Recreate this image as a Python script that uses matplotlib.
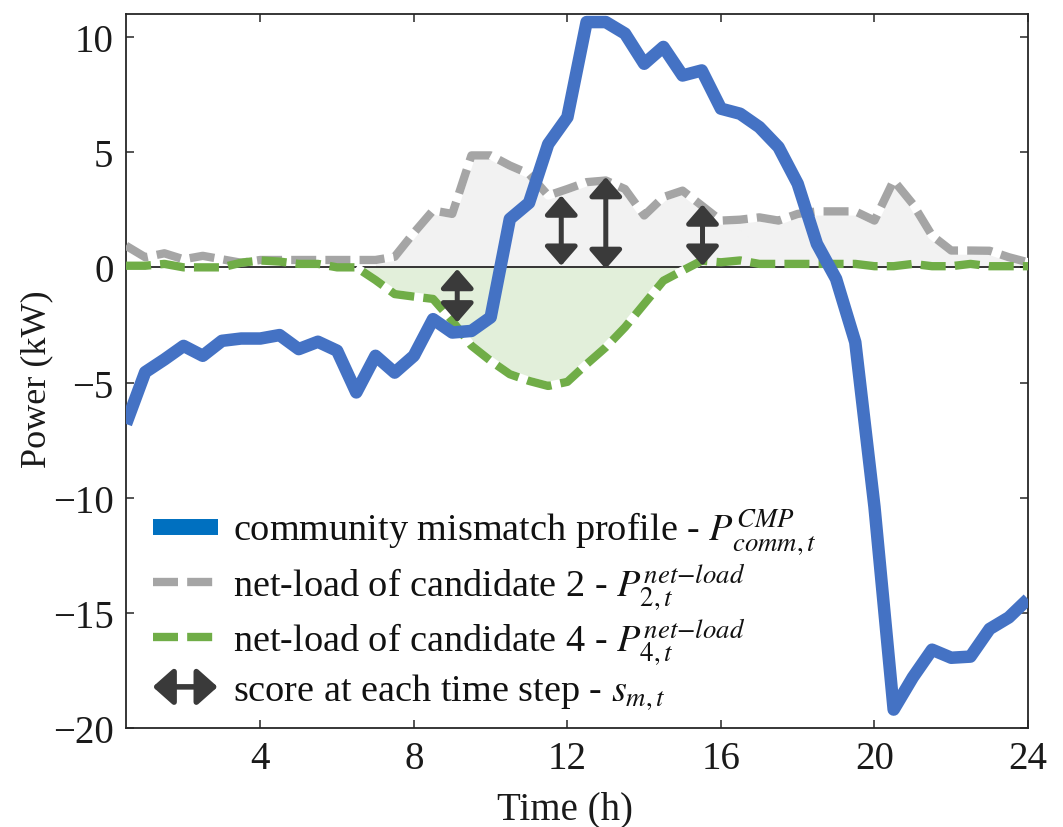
import numpy as np
import matplotlib
matplotlib.use("Agg")
import matplotlib.pyplot as plt
import matplotlib.patches as mpatches
from matplotlib.lines import Line2D
from matplotlib.legend_handler import HandlerBase

plt.rcParams['font.family'] = ['Liberation Serif', 'DejaVu Serif']
plt.rcParams['mathtext.fontset'] = 'stix'

# ---------------- data ----------------
time_h = np.arange(0.5, 24.01, 0.5)

community_mismatch = [-6.8, -4.55, -4.0, -3.41, -3.84, -3.19, -3.09, -3.09, -2.94, -3.55,
                      -3.23, -3.62, -5.43, -3.84, -4.57, -3.84, -2.25, -2.83, -2.76, -2.17,
                      2.1, 2.8, 5.35, 6.52, 10.65, 10.65, 10.15, 8.84, 9.57, 8.33,
                      8.55, 6.89, 6.67, 6.09, 5.22, 3.63, 1.02, -0.5, -3.25, -10.4,
                      -19.2, -17.8, -16.6, -16.95, -16.9, -15.7, -15.2, -14.4]

netload_cand2 = [0.94, 0.44, 0.61, 0.35, 0.5, 0.35, 0.2, 0.32, 0.32, 0.32,
                 0.32, 0.32, 0.32, 0.32, 0.46, 1.5, 2.47, 2.32, 4.86, 4.86,
                 4.42, 4.06, 3.12, 3.4, 3.7, 3.77, 3.4, 2.25, 3.05, 3.33,
                 2.68, 2.03, 2.07, 2.17, 2.03, 2.32, 2.43, 2.43, 2.43, 2.03,
                 3.77, 2.75, 1.38, 0.73, 0.73, 0.72, 0.44, 0.22]

netload_cand4 = [0.07, 0.07, 0.15, 0.0, 0.0, 0.0, 0.2, 0.3, 0.25, 0.15,
                 0.15, 0.0, 0.0, -0.55, -1.16, -1.27, -1.37, -2.32, -3.4, -4.06,
                 -4.64, -4.93, -5.15, -4.97, -4.2, -3.47, -2.6, -1.59, -0.58, -0.14,
                 0.29, 0.22, 0.3, 0.15, 0.15, 0.15, 0.15, 0.15, 0.15, 0.05,
                 0.05, 0.15, 0.05, 0.05, 0.15, 0.05, 0.05, 0.05]

# score arrows (time, lower end, upper end)
score_time = [9.13, 11.84, 13.0, 15.52]
score_low = [-2.39, 0.07, -0.07, 0.07]
score_high = [-0.07, 3.12, 3.92, 2.73]

x_ticks = [4, 8, 12, 16, 20, 24]
y_ticks = [-20, -15, -10, -5, 0, 5, 10]

legend_labels = [
    r'community mismatch profile - $P^{CMP}_{comm,t}$',
    r'net-load of candidate 2 - $P^{net\mathrm{-}load}_{2,t}$',
    r'net-load of candidate 4 - $P^{net\mathrm{-}load}_{4,t}$',
    r'score at each time step - $s_{m,t}$',
]

# ---------------- style ----------------
C_BLUE = '#4472C4'
C_BLUE_LEG = '#0070C0'
C_GRAY = '#A5A5A5'
C_GREEN = '#70AD47'
C_GRAY_FILL = '#F2F2F2'
C_GREEN_FILL = '#E2EFDA'
C_ARROW = '#3A3A3A'
C_SPINE = '#262626'

t = np.asarray(time_h)
blue = np.asarray(community_mismatch)
gray = np.asarray(netload_cand2)
green = np.asarray(netload_cand4)

fig = plt.figure(figsize=(10.63, 8.28), dpi=100)
ax = fig.add_axes([126 / 1063, 1 - 729 / 828, (1028 - 126) / 1063, (729 - 15) / 828])

# fills
ax.fill_between(t, 0, gray, where=t >= 7.0, color=C_GRAY_FILL, lw=0, zorder=1)
ax.fill_between(t, 0, green, where=green < 0, interpolate=True, color=C_GREEN_FILL, lw=0, zorder=1)

# zero line
ax.axhline(0, color='black', lw=1.1, zorder=2)

dash_lw = 6
gray_under = np.where(t >= 7.0, gray, np.nan)
ax.plot(t, gray_under, color='white', lw=dash_lw, solid_capstyle='butt', zorder=3)
ax.plot(t, gray, color=C_GRAY, lw=dash_lw, dashes=(3, 1.1), dash_capstyle='butt', zorder=3)

green_under = np.where((t >= 6.5) & (t <= 15.5), green, np.nan)
ax.plot(t, green_under, color='white', lw=dash_lw, solid_capstyle='butt', zorder=4)
ax.plot(t, green, color=C_GREEN, lw=dash_lw, dashes=(3, 1.1), dash_capstyle='butt', zorder=4)

# community mismatch
ax.plot(t, blue, color=C_BLUE, lw=9, solid_joinstyle='round', solid_capstyle='butt', zorder=5)

# score arrows
for ts, lo, hi in zip(score_time, score_low, score_high):
    ax.annotate('', xy=(ts, hi), xytext=(ts, lo),
                arrowprops=dict(arrowstyle='<|-|>,head_length=1.15,head_width=1.0',
                                mutation_scale=10, lw=3.6, color=C_ARROW,
                                shrinkA=0, shrinkB=0),
                zorder=6)

ax.set_xlim(0.5, 24)
ax.set_ylim(-20, 11)
ax.set_xticks(x_ticks)
ax.set_yticks(y_ticks)
ax.set_yticklabels([('\u2212' + str(-v)) if v < 0 else str(v) for v in y_ticks])
ax.tick_params(direction='in', length=6, width=1.1, top=True, right=True,
               labelsize=28, pad=9, color=C_SPINE, labelcolor='#1a1a1a')
for s in ax.spines.values():
    s.set_linewidth(1.3)
    s.set_color(C_SPINE)

ax.set_xlabel('Time (h)', fontsize=28, color='#1a1a1a', labelpad=9)
ax.set_ylabel('Power (kW)', fontsize=26, color='#1a1a1a')
ax.yaxis.set_label_coords(-0.081, 0.49)
ax.xaxis.label.set_x(0.487)


# legend
class ArrowHandler(HandlerBase):
    def create_artists(self, legend, orig_handle, xdescent, ydescent, width, height, fontsize, trans):
        y = height / 2 - ydescent
        a = mpatches.FancyArrowPatch((-xdescent, y), (-xdescent + width, y),
                                     arrowstyle='<|-|>,head_length=0.45,head_width=0.4',
                                     mutation_scale=fontsize, lw=4, color=C_ARROW,
                                     shrinkA=0, shrinkB=0, transform=trans)
        return [a]


h_blue = Line2D([], [], color=C_BLUE_LEG, lw=11.5, solid_capstyle='butt')
h_gray = Line2D([], [], color=C_GRAY, lw=dash_lw, dashes=(3, 1.1), dash_capstyle='butt')
h_green = Line2D([], [], color=C_GREEN, lw=dash_lw, dashes=(3, 1.1), dash_capstyle='butt')
h_arrow = mpatches.FancyArrowPatch((0, 0), (1, 0))

leg = ax.legend([h_blue, h_gray, h_green, h_arrow], legend_labels,
                handler_map={mpatches.FancyArrowPatch: ArrowHandler()},
                loc='lower left', bbox_to_anchor=(0.0, -0.014), frameon=False,
                fontsize=27.5, handlelength=1.7, handletextpad=0.4,
                labelspacing=0.12, borderaxespad=0.3)
for txt in leg.get_texts():
    txt.set_color('#111111')
leg.set_zorder(7)

fig.savefig('out.png', dpi=100)
